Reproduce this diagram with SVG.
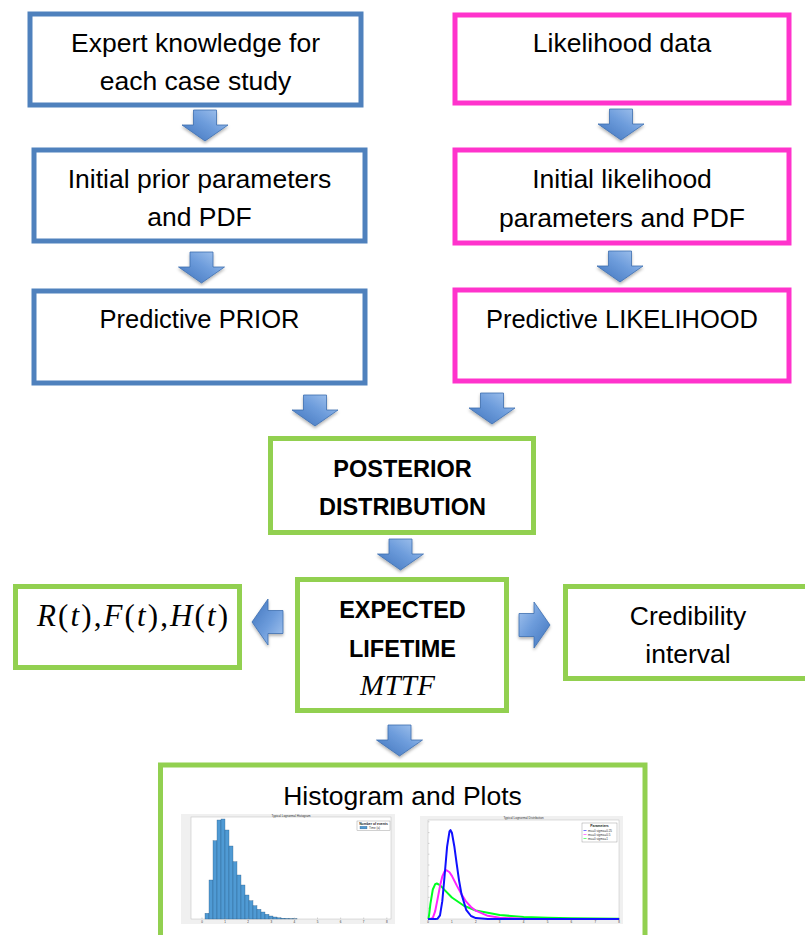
<svg xmlns="http://www.w3.org/2000/svg" width="805" height="935" viewBox="0 0 805 935">
  <defs>
    <style>
      .box { fill: #ffffff; stroke-width: 5; }
      .blue { stroke: #4F81BD; }
      .pink { stroke: #FF33CC; }
      .green { stroke: #92D050; }
      .t { font-family: "Liberation Sans", Arial, sans-serif; font-size: 26.5px; fill: #000; text-anchor: middle; }
      .b { font-family: "Liberation Sans", Arial, sans-serif; font-size: 23.5px; font-weight: bold; fill: #000; text-anchor: middle; }
      .m { font-family: "Liberation Serif", "Times New Roman", serif; fill: #000; }
      .mi { font-style: italic; }
      .arrow { fill: url(#arrowFill); stroke: #3E6FB0; stroke-width: 0.8; }
      .panel { fill: #F0F0F0; }
      .axes { fill: #ffffff; stroke: #BDBDBD; stroke-width: 0.5; }
      .bar { fill: #4F9AD4; stroke: #24527A; stroke-width: 0.3; }
      .tick { stroke: #9A9A9A; stroke-width: 0.4; }
      .tiny { font-family: "Liberation Sans", Arial, sans-serif; font-size: 3px; fill: #333; }
      .tinyb { font-family: "Liberation Sans", Arial, sans-serif; font-size: 3.4px; font-weight: bold; fill: #222; }
      .curve { fill: none; stroke-width: 2; stroke-linejoin: round; }
    </style>
    <linearGradient id="arrowFill" x1="1" y1="0" x2="0" y2="1">
      <stop offset="0" stop-color="#A9C8F0"/>
      <stop offset="0.45" stop-color="#6E9DDC"/>
      <stop offset="1" stop-color="#3F73BC"/>
    </linearGradient>
    <filter id="shadow" x="-20%" y="-20%" width="140%" height="150%">
      <feDropShadow dx="0" dy="2" stdDeviation="1.5" flood-color="#000" flood-opacity="0.3"/>
    </filter>
    <!-- block arrow pointing down, origin at the middle of its back edge -->
    <path id="blockArrow" class="arrow" d="M-11.5,0 H11.5 V15 H23 L0,31 L-23,15 H-11.5 Z"/>
  </defs>

  <rect width="805" height="935" fill="#ffffff"/>

  <!-- prior branch -->
  <g id="expert">
    <rect class="box blue" x="30" y="14" width="331" height="91"/>
    <text class="t" x="195.5" y="52">Expert knowledge for</text>
    <text class="t" x="195.5" y="90">each case study</text>
  </g>
  <g id="initial-prior">
    <rect class="box blue" x="34" y="150" width="331" height="91"/>
    <text class="t" x="199.5" y="188">Initial prior parameters</text>
    <text class="t" x="199.5" y="226">and PDF</text>
  </g>
  <g id="predictive-prior">
    <rect class="box blue" x="34" y="291" width="331" height="92"/>
    <text class="t" x="199.5" y="328" style="font-size:25.5px">Predictive PRIOR</text>
  </g>

  <!-- likelihood branch -->
  <g id="likelihood-data">
    <rect class="box pink" x="455" y="15" width="334" height="88"/>
    <text class="t" x="622" y="52">Likelihood data</text>
  </g>
  <g id="initial-likelihood">
    <rect class="box pink" x="455" y="150" width="334" height="93"/>
    <text class="t" x="622" y="188">Initial likelihood</text>
    <text class="t" x="622" y="227">parameters and PDF</text>
  </g>
  <g id="predictive-likelihood">
    <rect class="box pink" x="455" y="290" width="334" height="91"/>
    <text class="t" x="622" y="328" style="font-size:25.5px">Predictive LIKELIHOOD</text>
  </g>

  <!-- results -->
  <g id="posterior">
    <rect class="box green" x="270.5" y="438.5" width="263" height="94"/>
    <text class="b" x="402.5" y="477">POSTERIOR</text>
    <text class="b" x="402.5" y="515">DISTRIBUTION</text>
  </g>
  <g id="expected-lifetime">
    <rect class="box green" x="297.5" y="579.5" width="209" height="131"/>
    <text class="b" x="402.5" y="618">EXPECTED</text>
    <text class="b" x="402.5" y="657">LIFETIME</text>
    <text class="m mi" x="360" y="695" font-size="29" textLength="75">MTTF</text>
  </g>
  <g id="reliability-functions">
    <rect class="box green" x="15.5" y="586.5" width="224" height="81"/>
    <text class="m" x="37" y="626" font-size="31" textLength="191"><tspan class="mi">R</tspan>(<tspan class="mi">t</tspan>),<tspan class="mi">F</tspan>(<tspan class="mi">t</tspan>),<tspan class="mi">H</tspan>(<tspan class="mi">t</tspan>)</text>
  </g>
  <g id="credibility-interval">
    <rect class="box green" x="565.5" y="586.5" width="270" height="92"/>
    <text class="t" x="688" y="625">Credibility</text>
    <text class="t" x="688" y="663">interval</text>
  </g>

  <g id="histogram-plots">
    <rect class="box green" x="160.5" y="765" width="484.5" height="200"/>
    <text class="t" x="402.5" y="805">Histogram and Plots</text>

    <!-- lognormal histogram -->
    <g id="histogram">
      <rect class="panel" x="181" y="814" width="214" height="110"/>
      <rect class="axes" x="191" y="817" width="200" height="102"/>
      <text class="tiny" x="291" y="816.5" text-anchor="middle">Typical Lognormal Histogram</text>
      <g>
        <rect class="bar" x="205" y="913.3" width="4" height="5.7"/>
        <rect class="bar" x="209" y="880" width="4" height="39"/>
        <rect class="bar" x="213" y="840.7" width="4" height="78.3"/>
        <rect class="bar" x="217" y="820" width="4" height="99"/>
        <rect class="bar" x="221" y="819" width="4" height="100"/>
        <rect class="bar" x="225" y="830" width="4" height="89"/>
        <rect class="bar" x="229" y="846" width="4" height="73"/>
        <rect class="bar" x="233" y="861.7" width="4" height="57.3"/>
        <rect class="bar" x="237" y="875" width="4" height="44"/>
        <rect class="bar" x="241" y="885" width="4" height="34"/>
        <rect class="bar" x="245" y="895" width="4" height="24"/>
        <rect class="bar" x="249" y="900.7" width="4" height="18.3"/>
        <rect class="bar" x="253" y="905.7" width="4" height="13.3"/>
        <rect class="bar" x="257" y="909.3" width="4" height="9.7"/>
        <rect class="bar" x="261" y="912" width="4" height="7"/>
        <rect class="bar" x="265" y="914.3" width="4" height="4.7"/>
        <rect class="bar" x="269" y="916" width="4" height="3"/>
        <rect class="bar" x="273" y="917" width="4" height="2"/>
        <rect class="bar" x="277" y="917.8" width="4" height="1.2"/>
        <rect class="bar" x="281" y="918.2" width="4" height="0.8"/>
        <rect class="bar" x="285" y="918.5" width="4" height="0.5"/>
        <rect class="bar" x="289" y="918.7" width="4" height="0.3"/>
        <rect class="bar" x="293" y="918.8" width="4" height="0.2"/>
      </g>
      <path class="tick" d="M202,919v-1.5M225.1,919v-1.5M248.2,919v-1.5M271.3,919v-1.5M294.4,919v-1.5M317.5,919v-1.5M340.6,919v-1.5M363.7,919v-1.5M386.8,919v-1.5"/>
      <g class="tiny" text-anchor="middle">
        <text x="202" y="922.5">0</text><text x="225.1" y="922.5">1</text><text x="248.2" y="922.5">2</text>
        <text x="271.3" y="922.5">3</text><text x="294.4" y="922.5">4</text><text x="317.5" y="922.5">5</text>
        <text x="340.6" y="922.5">6</text><text x="363.7" y="922.5">7</text><text x="386.8" y="922.5">8</text>
      </g>
      <rect x="357" y="821" width="33" height="9.5" fill="#ffffff" stroke="#8A8A8A" stroke-width="0.4"/>
      <text class="tinyb" x="373.5" y="824.8" text-anchor="middle">Number of events</text>
      <rect x="360" y="826.3" width="7" height="2.6" fill="#4F9AD4" stroke="#24527A" stroke-width="0.3"/>
      <text class="tiny" x="369" y="828.9">Time (a)</text>
    </g>

    <!-- lognormal density curves -->
    <g id="density">
      <rect class="panel" x="420" y="816" width="203" height="108"/>
      <rect class="axes" x="428" y="820" width="191" height="99"/>
      <text class="tiny" x="523.5" y="818.7" text-anchor="middle">Typical Lognormal Distribution</text>
      <path class="tick" d="M428,919h1.5M428,908.2h1.5M428,897.4h1.5M428,886.6h1.5M428,875.8h1.5M428,865h1.5M428,854.2h1.5M428,843.4h1.5M428,832.6h1.5M428,821.8h1.5"/>
      <g class="tiny" text-anchor="middle">
        <text x="428" y="922.5">0</text><text x="451.9" y="922.5">1</text><text x="475.8" y="922.5">2</text>
        <text x="499.7" y="922.5">3</text><text x="523.6" y="922.5">4</text><text x="547.5" y="922.5">5</text>
        <text x="571.4" y="922.5">6</text><text x="595.3" y="922.5">7</text><text x="619.2" y="922.5">8</text>
      </g>
      <path class="curve" stroke="#00FF22" d="M428,919 L428.5,918.5 L429.2,914.1 L430.4,903.8 L432.8,889.5 L435.2,884.2 L436.8,883.5 L440,885.1 L444.7,890.1 L451.9,897.5 L463.9,905.8 L475.8,910.5 L499.7,915.1 L523.6,916.9 L547.5,917.8 L571.4,918.3 L619.2,918.7"/>
      <path class="curve" stroke="#FF22FF" d="M428,919 L430.4,919 L432.8,917.8 L435.2,911.1 L437.6,898.9 L440,886.1 L442.3,876.4 L444.7,871.3 L446.6,870.2 L449.5,872.2 L451.9,875.9 L456.7,885.4 L461.5,894.4 L466.2,901.7 L471,907 L475.8,910.7 L487.8,915.8 L499.7,917.7 L523.6,918.8 L547.5,919 L619.2,919"/>
      <path class="curve" stroke="#1010FF" d="M428,919 L435.2,919 L437.6,918.7 L440,915.3 L442.3,901.2 L444.7,874.5 L447.1,846.6 L449.5,831.4 L450.5,830.1 L451.9,832.8 L454.3,846.2 L456.7,863.9 L459.1,880.8 L461.5,894.1 L466.2,909.8 L471,916 L475.8,918.1 L487.8,919 L619.2,919"/>
      <rect x="582" y="823" width="35" height="19" fill="#ffffff" stroke="#8A8A8A" stroke-width="0.4"/>
      <text class="tinyb" x="599.5" y="827" text-anchor="middle">Parameters</text>
      <path d="M583.5,830.5h3" stroke="#1010FF" stroke-width="0.6"/>
      <path d="M583.5,834.5h3" stroke="#FF22FF" stroke-width="0.6"/>
      <path d="M583.5,838.5h3" stroke="#00FF22" stroke-width="0.6"/>
      <text class="tiny" x="588" y="831.5">mu=0 sigma=0.25</text>
      <text class="tiny" x="588" y="835.5">mu=0 sigma=0.5</text>
      <text class="tiny" x="588" y="839.5">mu=0 sigma=1</text>
    </g>
  </g>

  <!-- block arrows between the boxes -->
  <g id="connectors" filter="url(#shadow)">
    <use href="#blockArrow" transform="translate(205,110)"/>
    <use href="#blockArrow" transform="translate(201.5,252)"/>
    <use href="#blockArrow" transform="translate(621,109)"/>
    <use href="#blockArrow" transform="translate(620,251)"/>
    <use href="#blockArrow" transform="translate(315,395)"/>
    <use href="#blockArrow" transform="translate(492,393)"/>
    <use href="#blockArrow" transform="translate(400.5,539)"/>
    <use href="#blockArrow" transform="translate(399.5,725)"/>
    <use href="#blockArrow" transform="translate(283,622) rotate(90)"/>
    <use href="#blockArrow" transform="translate(519,625) rotate(-90)"/>
  </g>
</svg>
